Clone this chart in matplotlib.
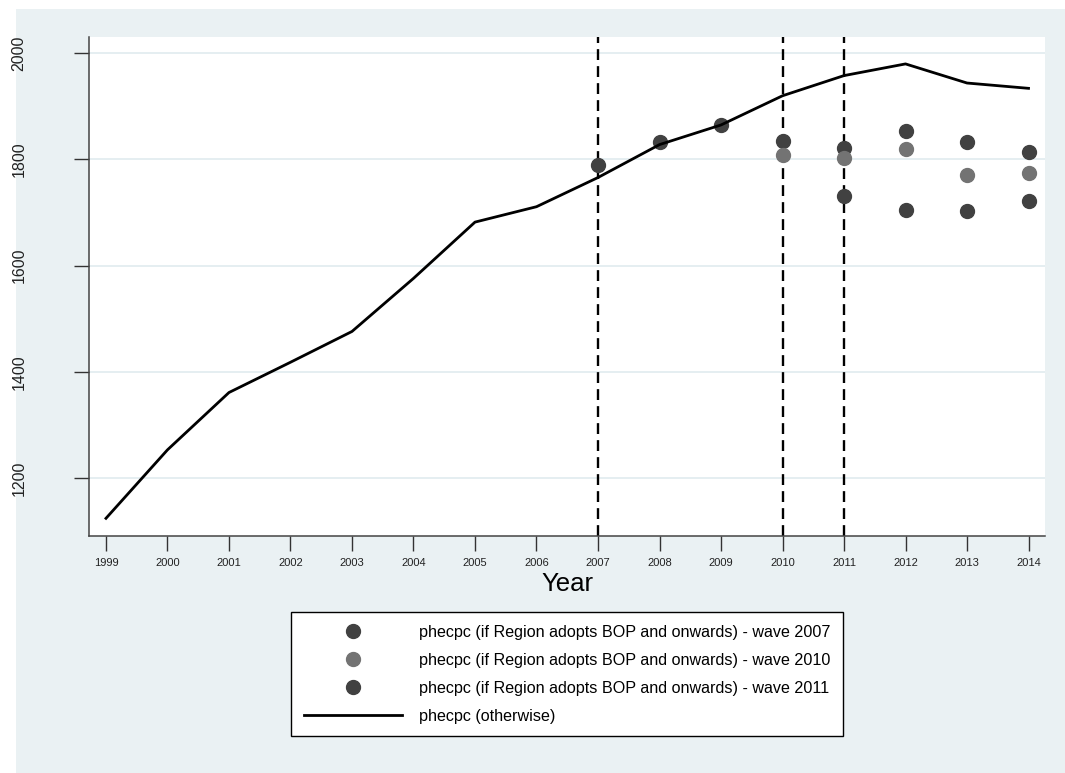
import numpy as np
import matplotlib
matplotlib.use('Agg')
import matplotlib.pyplot as plt
from matplotlib.patches import Rectangle

plt.rcParams['font.family'] = ['Liberation Sans', 'DejaVu Sans']

# Dati
years = list(range(1999, 2015))
otherwise = [1124, 1253, 1361, 1418, 1476, 1576, 1682, 1711, 1766, 1828, 1865,
             1920, 1958, 1980, 1944, 1934]

wave2007_years = list(range(2007, 2015))
wave2007 = [1789, 1833, 1864, 1835, 1822, 1853, 1832, 1814]
wave2010_years = list(range(2010, 2015))
wave2010 = [1808, 1803, 1820, 1771, 1775]
wave2011_years = list(range(2011, 2015))
wave2011 = [1732, 1705, 1703, 1722]

adoption_years = [2007, 2010, 2011]
y_ticks = [1200, 1400, 1600, 1800, 2000]

labels = ['phecpc (if Region adopts BOP and onwards) - wave 2007',
          'phecpc (if Region adopts BOP and onwards) - wave 2010',
          'phecpc (if Region adopts BOP and onwards) - wave 2011',
          'phecpc (otherwise)']

dark = '#414141'
grey = '#737373'
panel = '#eaf1f3'

W, H = 1065, 773
fig = plt.figure(figsize=(W / 100, H / 100), dpi=100)
fig.patch.set_facecolor('white')
fig.patches.append(Rectangle((16 / W, 0), 1, 1 - 9 / H, transform=fig.transFigure,
                             facecolor=panel, edgecolor='none', zorder=-10))

ax = fig.add_axes([89 / W, 1 - 536 / H, (1045 - 89) / W, (536 - 37) / H])
ax.set_zorder(1)
ax.set_facecolor('white')

ax.grid(axis='y', color='#e3edf0', linewidth=1.3, zorder=0)
ax.set_axisbelow(True)

for yr in adoption_years:
    ax.axvline(yr, color='black', linewidth=1.7, linestyle=(0, (4.6, 2.6)), zorder=2)

h1, = ax.plot(wave2007_years, wave2007, 'o', color=dark, markersize=10, zorder=3)
h2, = ax.plot(wave2010_years, wave2010, 'o', color=grey, markersize=10, zorder=3)
h3, = ax.plot(wave2011_years, wave2011, 'o', color=dark, markersize=10, zorder=3)
h4, = ax.plot(years, otherwise, color='black', linewidth=2, zorder=4)

ax.set_xlim(1998.724, 2014.268)
ax.set_ylim(1090.7, 2030.7)
ax.set_xticks(years)
ax.set_xticklabels([str(y) for y in years], fontsize=8, color='#222222')
ax.set_yticks(y_ticks)
ax.set_yticklabels([str(y) for y in y_ticks], fontsize=11.5, rotation=90,
                   va='center', color='#222222')

ax.tick_params(axis='x', length=11, width=1, color='#333333', pad=5)
ax.tick_params(axis='y', length=11, width=1, color='#333333', pad=34)

for s in ['top', 'right']:
    ax.spines[s].set_visible(False)
for s in ['left', 'bottom']:
    ax.spines[s].set_color('#444444')
    ax.spines[s].set_linewidth(1.1)

ax.set_xlabel('Year', fontsize=18.5, labelpad=3)

leg = fig.legend([h1, h2, h3, h4], labels, loc='upper center',
                 bbox_to_anchor=(567 / W, 1 - 612 / H), ncol=1, numpoints=1,
                 fontsize=11.6, frameon=True, fancybox=False, framealpha=1,
                 edgecolor='black', handlelength=6.1, handletextpad=1.05,
                 labelspacing=0.8, borderpad=0.8, borderaxespad=0)
leg.get_frame().set_linewidth(1)

fig.savefig('out.png', dpi=100)
